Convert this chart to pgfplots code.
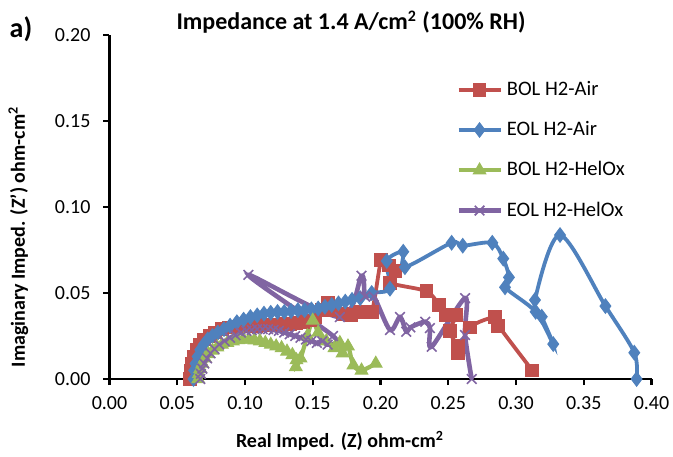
\documentclass[border=0pt]{standalone}
\usepackage{pgfplots}
\pgfplotsset{compat=1.18}
\usepackage{fontspec}
\setmainfont{Carlito}

\definecolor{xlred}{HTML}{C0504D}
\definecolor{xlblue}{HTML}{4F81BD}
\definecolor{xlgreen}{HTML}{9BBB59}
\definecolor{xlpurple}{HTML}{8064A2}

\begin{document}
\begin{tikzpicture}
\path[use as bounding box] (-54.75pt,-38.5pt) rectangle (281.75pt,189.5pt);
\begin{axis}[
    scale only axis,
    width=271pt, height=172pt,
    xmin=0, xmax=0.4, ymin=0, ymax=0.2,
    xtick={0,0.05,0.1,0.15,0.2,0.25,0.3,0.35,0.4},
    ytick={0,0.05,0.1,0.15,0.2},
    axis x line=bottom, axis y line=left,
    axis line style={-, line width=1.2pt},
    tick align=outside, major tick length=3pt,
    tick style={line width=1.2pt, black},
    xticklabel style={yshift=-2pt, /pgf/number format/.cd, fixed, fixed zerofill, precision=2, assume math mode=true},
    yticklabel style={xshift=-3pt, /pgf/number format/.cd, fixed, fixed zerofill, precision=2, assume math mode=true},
    ticklabel style={font=\fontsize{10}{12}\selectfont},
    xlabel={Real Imped. (Z) ohm-cm\textsuperscript{2}},
    ylabel={Imaginary Imped. (Z') ohm-cm\textsuperscript{2}},
    label style={font=\bfseries\fontsize{10}{12}\selectfont},
    xlabel style={at={(axis description cs:0.4253,-0.180)}, anchor=center},
    ylabel style={at={(axis description cs:-0.168,0.413)}, anchor=center},
    legend style={at={(axis description cs:0.628,0.89)}, anchor=north west, draw=none, fill=none,
        font=\fontsize{10.3}{12}\selectfont, row sep=7.5pt},
    legend cell align=left,
    legend image code/.code={\draw[mark repeat=2,mark phase=2] plot coordinates {(0pt,0pt) (10.5pt,0pt) (21pt,0pt)};},
]
\addplot[xlred, line width=1.9pt, smooth, mark=square*, mark size=3.2pt, mark options={solid, line width=0.5pt, fill=xlred}] coordinates {
(0.0594,0.000) (0.0600,0.005) (0.0610,0.009) (0.0625,0.013) (0.0645,0.017) (0.0670,0.020)
(0.0700,0.023) (0.0740,0.025) (0.0780,0.027) (0.0830,0.029) (0.0880,0.030) (0.0930,0.0305)
(0.0980,0.031) (0.1030,0.031) (0.1080,0.031) (0.1130,0.0315) (0.1180,0.0315) (0.1230,0.0315)
(0.1280,0.032) (0.1330,0.032) (0.1380,0.0325) (0.1430,0.033) (0.1480,0.034) (0.1520,0.036)
(0.1570,0.040) (0.1610,0.044) (0.1660,0.040) (0.1720,0.038) (0.1780,0.037) (0.1850,0.039)
(0.1935,0.039) (0.2005,0.069) (0.2060,0.066) (0.2110,0.063) (0.2070,0.056) (0.2340,0.051)
(0.2430,0.043) (0.2480,0.037) (0.2560,0.037) (0.2510,0.028) (0.2570,0.019) (0.2570,0.015)
(0.2660,0.030) (0.2845,0.036) (0.2870,0.031) (0.3120,0.005)
};
\addlegendentry{BOL H2-Air}
\addplot[xlblue, line width=1.9pt, smooth, mark=diamond*, mark size=3.6pt, mark options={solid, line width=0.5pt, fill=xlblue}] coordinates {
(0.0620,0.000) (0.0625,0.005) (0.0635,0.009) (0.0650,0.013) (0.0670,0.017) (0.0695,0.020)
(0.0725,0.023) (0.0760,0.025) (0.0800,0.027) (0.0845,0.029) (0.0890,0.031) (0.0940,0.033)
(0.0990,0.0345) (0.1040,0.036) (0.1090,0.037) (0.1140,0.038) (0.1190,0.0385) (0.1240,0.039)
(0.1290,0.039) (0.1340,0.0395) (0.1390,0.040) (0.1440,0.040) (0.1490,0.0405) (0.1540,0.041)
(0.1590,0.042) (0.1640,0.043) (0.1690,0.044) (0.1740,0.045) (0.1790,0.046) (0.1850,0.047)
(0.1935,0.050) (0.2070,0.0525) (0.2046,0.0686) (0.2168,0.074) (0.2180,0.065) (0.2525,0.0792)
(0.2607,0.0775) (0.2825,0.0792) (0.2906,0.070) (0.2948,0.0591) (0.2919,0.0533) (0.3145,0.0391)
(0.3275,0.0203) (0.3190,0.0362) (0.3140,0.0459) (0.3325,0.0837) (0.3660,0.0424) (0.3873,0.0153)
(0.3890,0.000)
};
\addlegendentry{EOL H2-Air}
\addplot[xlgreen, line width=2.1pt, smooth, mark=triangle*, mark size=3.6pt, mark options={solid, line width=0.5pt, fill=xlgreen}] coordinates {
(0.0655,0.000) (0.0660,0.003) (0.0670,0.006) (0.0685,0.009) (0.0705,0.012) (0.0730,0.0145)
(0.0760,0.0165) (0.0795,0.0185) (0.0830,0.020) (0.0870,0.021) (0.0910,0.022) (0.0950,0.0227)
(0.0990,0.023) (0.1030,0.023) (0.1070,0.0225) (0.1110,0.022) (0.1150,0.021) (0.1190,0.020)
(0.1230,0.019) (0.1270,0.018) (0.1310,0.016) (0.1350,0.014) (0.1380,0.011) (0.1375,0.007)
(0.1410,0.012) (0.1460,0.025) (0.1500,0.034) (0.1540,0.027) (0.1600,0.022) (0.1660,0.018)
(0.1700,0.021) (0.1720,0.015) (0.1760,0.019) (0.1800,0.008) (0.1860,0.005) (0.1965,0.009)
};
\addlegendentry{BOL H2-HelOx}
\addplot[xlpurple, line width=2.3pt, smooth, mark=x, mark size=3.4pt, mark options={solid, line width=0.8pt}] coordinates {
(0.0670,0.000) (0.0675,0.003) (0.0685,0.006) (0.0700,0.009) (0.0720,0.012) (0.0745,0.015)
(0.0775,0.0175) (0.0810,0.020) (0.0850,0.022) (0.0890,0.024) (0.0930,0.0255) (0.0970,0.027)
(0.1010,0.028) (0.1050,0.0285) (0.1090,0.029) (0.1130,0.029) (0.1170,0.029) (0.1210,0.0285)
(0.1250,0.028) (0.1290,0.027) (0.1330,0.026) (0.1370,0.025) (0.1410,0.024) (0.1450,0.023)
(0.1490,0.022) (0.1530,0.021) (0.1570,0.022) (0.1610,0.020) (0.1650,0.025) (0.1025,0.0605)
(0.1700,0.036) (0.1860,0.060) (0.1886,0.048) (0.1950,0.048) (0.2070,0.0285) (0.2144,0.036)
(0.2190,0.0275) (0.2220,0.030) (0.2330,0.0333) (0.2365,0.0296) (0.2378,0.0188) (0.2624,0.047)
(0.2624,0.0256) (0.2673,0.000)
};
\addlegendentry{EOL H2-HelOx}
\end{axis}
\node[font=\bfseries\fontsize{12}{14}\selectfont] at (120.75pt,178.5pt) {Impedance at 1.4 A/cm\textsuperscript{2} (100\% RH)};
\node[font=\bfseries\fontsize{14}{16}\selectfont] at (-44.25pt,175pt) {a)};
\end{tikzpicture}
\end{document}
